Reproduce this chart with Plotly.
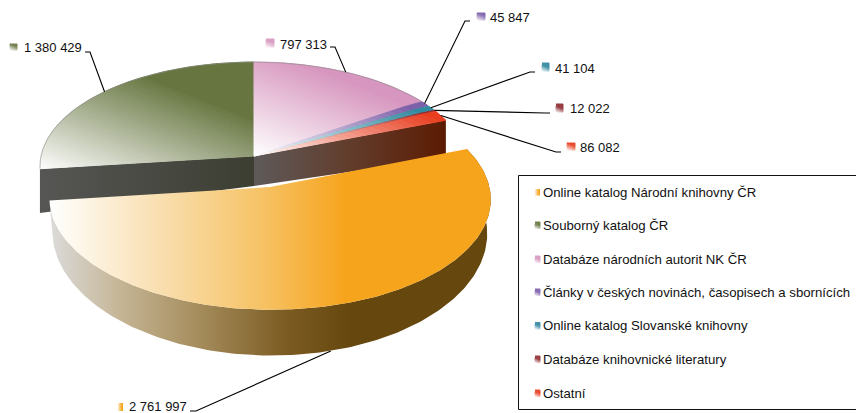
import numpy as np
import plotly.graph_objects as go

# ---------- data ----------
categories = ["Online katalog Národní knihovny ČR", "Souborný katalog ČR",
              "Databáze národních autorit NK ČR",
              "Články v českých novinách, časopisech a sbornících",
              "Online katalog Slovanské knihovny", "Databáze knihovnické literatury", "Ostatní"]
values = [2761997, 1380429, 797313, 45847, 41104, 12022, 86082]
colors = ["#F7A41D", "#66753F", "#D695BE", "#7A5CA8", "#2E879E", "#8E2A30", "#E8391A"]

# ---------- styling / layout constants ----------
W, H = 856, 413
CX, CY = 254.0, 156.0        # pie apex in pixels
A, K, P = 213.0, 103.5, 0.1015  # radius, vertical squash, perspective
FIRST_ANGLE = 69.0
EXPLODE = 0.30
D0 = 30.0
FONT = "Liberation Sans, Arial, sans-serif"
FADE = (0.37, -0.93)

LABELS = [
    dict(tx=127, ty=406, ex=190, bx=196, by=411, mx=(118, 123), my=(403, 411)),
    dict(tx=22, ty=47, ex=85, bx=90, by=52, mx=(10, 17), my=(44, 50)),
    dict(tx=278, ty=44, ex=330, bx=335, by=47, mx=(266, 274), my=(39, 47)),
    dict(tx=488, ty=17, ex=470, bx=465, by=21, mx=(477, 485), my=(13, 20)),
    dict(tx=553, ty=68, ex=535, bx=530, by=72, mx=(542, 549), my=(63, 71)),
    dict(tx=568, ty=108, ex=550, bx=545, by=113, mx=(556, 563), my=(104, 112)),
    dict(tx=578, ty=147, ex=561, bx=556, by=152, mx=(567, 575), my=(143, 150)),
]
LEGEND_Y = [192, 225, 259, 292, 325.5, 359, 393]


def hex2rgb(h):
    return np.array([int(h[i:i + 2], 16) for i in (1, 3, 5)], float)


def mix(c, t):
    rgb = 255 + (hex2rgb(c) - 255) * np.clip(t, 0, 1)
    return "rgb(%d,%d,%d)" % tuple(rgb.round())


def project(u, v, ox=0.0, oy=0.0):
    u, v = np.asarray(u, float) + ox, np.asarray(v, float) + oy
    s = 1.0 / (1.0 - P * v)
    return CX + A * u * s, CY + K * v * s, s


def rim(a0, a1, ox=0.0, oy=0.0, n=120):
    th = np.radians(np.linspace(a0, a1, n))
    return project(np.sin(th), -np.cos(th), ox, oy)


def depth(x, s, extra=13.0):
    return D0 * s ** 3 + extra * ((x - CX) / A) ** 2


fig = go.Figure()


def poly(x, y, fill=None, grad=None):
    kw = dict(x=list(x), y=list(y), mode="lines", fill="toself", hoverinfo="skip", showlegend=False)
    if grad is not None:
        stops, x0, x1 = grad
        kw["fillgradient"] = dict(type="horizontal", colorscale=stops, start=x0, stop=x1)
        kw["line"] = dict(width=0, color="rgba(0,0,0,0)")
    else:
        kw["fillcolor"] = fill
        kw["line"] = dict(width=1, color=fill)
    fig.add_trace(go.Scatter(**kw))


def clip(pts, nx, ny, d, keep_ge=True):
    out = []
    sign = 1 if keep_ge else -1
    for i in range(len(pts)):
        a, b = pts[i], pts[(i + 1) % len(pts)]
        fa = sign * (a[0] * nx + a[1] * ny - d)
        fb = sign * (b[0] * nx + b[1] * ny - d)
        if fa >= 0:
            out.append(a)
        if fa * fb < 0:
            r = fa / (fa - fb)
            out.append((a[0] + (b[0] - a[0]) * r, a[1] + (b[1] - a[1]) * r))
    return out


def bands(x, y, color, origin, full, n=36, direction=FADE):
    pts = list(zip(x, y))
    nx, ny = direction
    d0 = origin[0] * nx + origin[1] * ny
    for i in range(n):
        lo = d0 + full * i / n
        hi = d0 + full * (i + 1) / n if i < n - 1 else 1e6
        part = clip(pts, nx, ny, lo, True) if i > 0 else list(pts)
        part = clip(part, nx, ny, hi, False)
        if len(part) > 2:
            poly([p[0] for p in part], [p[1] for p in part], fill=mix(color, (i + 0.5) / n))


total = sum(values)
sweeps = [v / total * 360 for v in values]
starts = [FIRST_ANGLE + sum(sweeps[:i]) for i in range(len(values))]
ends = [a + s for a, s in zip(starts, sweeps)]

bis = np.radians((starts[0] + ends[0]) / 2)
OX, OY = EXPLODE * np.sin(bis), -EXPLODE * np.cos(bis)

for ang, stops, rng in [
    (ends[0], [[0, "#565654"], [1, "#3C3E32"]], (40, 254)),
    (starts[0], [[0, "#5E5A5A"], [0.5, "#623D2C"], [1, "#5C1C04"]], (254, 443)),
]:
    th = np.radians(ang)
    xr, yr, sr = project(np.sin(th), -np.cos(th))
    xa, ya, sa = CX, CY, 1.0
    dr, da = depth(xr, sr), depth(xa, sa)
    poly([xa, xr, xr, xa], [ya, yr, yr + dr, ya + da], grad=(stops, rng[0], rng[1]))

for i in range(1, len(values)):
    xr, yr, _ = rim(starts[i], ends[i])
    px = np.concatenate([[CX], xr])
    py = np.concatenate([[CY], yr])
    if i == 1:
        bands(px, py, colors[i], (40, 170), 126, n=60)
    else:
        bands(px, py, colors[i], (CX, CY), 105, n=40 if i == 2 else 24)
    if i in (1, 2):
        fig.add_trace(go.Scatter(x=list(xr), y=list(yr), mode="lines", hoverinfo="skip", showlegend=False,
                                 line=dict(color="rgba(140,140,140,0.6)", width=1)))

xo, yo, so = rim(starts[0], ends[0], OX, OY, 200)
do = depth(xo, so, extra=0.0)
xb = CX + (xo - CX) * 0.985
yb = yo + do
ap_x, ap_y, _ = project(0, 0, OX, OY)
wall_stops = [[0, "#DCDCDC"], [0.24, "#C5B595"], [0.5, "#A58C5C"], [0.8, "#7A5A20"], [1, "#66480F"]]
poly(np.concatenate([xo, xb[::-1]]), np.concatenate([yo, yb[::-1]]), grad=(wall_stops, 48, 350))
poly(np.concatenate([[ap_x], xo]), np.concatenate([[ap_y], yo]),
     grad=([[0, "#FFFFFF"], [0.35, "#F9E0B4"], [0.7, "#F6C469"], [1, colors[0]]], 50, 345))

for i, lab in enumerate(LABELS):
    th = np.radians((starts[i] + ends[i]) / 2)
    if i == 0:
        ax, ay, s = project(np.sin(th), -np.cos(th), OX, OY)
        ay = ay + depth(ax, s, extra=0.0)
    else:
        ax, ay, s = project(np.sin(th), -np.cos(th))
    fig.add_trace(go.Scatter(x=[lab["ex"], lab["bx"], float(ax)], y=[lab["by"], lab["by"], float(ay)],
                             mode="lines", hoverinfo="skip", showlegend=False,
                             line=dict(color="black", width=1.1)))
    x0, x1 = lab["mx"]
    y0, y1 = lab["my"]
    mx = [x0, x1, x1, x0]
    my = [y0, y0, y1, y1]
    if i == 0:
        poly(mx, my, grad=([[0, "#FFFFFF"], [1, colors[0]]], x0 - 1, x1 - 1))
    else:
        bands(mx, my, colors[i], (x0, y1), (x1 - x0) * 0.95, n=6)
    fig.add_annotation(x=lab["tx"], y=lab["ty"], text=f"{values[i]:,}".replace(",", " "), showarrow=False,
                       xanchor="left", yanchor="middle", font=dict(family=FONT, size=13, color="#111"))

fig.add_shape(type="rect", x0=518.5, x1=870, y0=175.5, y1=409.5, line=dict(color="#111", width=1), fillcolor="rgba(0,0,0,0)")
for i, name in enumerate(categories):
    y = LEGEND_Y[i]
    mx = [535, 540, 540, 535]
    my = [y - 3, y - 3, y + 3.5, y + 3.5]
    if i == 0:
        poly(mx, my, grad=([[0, "#FFFFFF"], [1, colors[0]]], 534, 539))
    else:
        bands(mx, my, colors[i], (535, y + 3.5), 5.5, n=5)
    fig.add_annotation(x=541, y=y, text=name, showarrow=False, xanchor="left", yanchor="middle",
                       font=dict(family=FONT, size=13.2, color="#111"))

fig.update_layout(
    width=W, height=H, margin=dict(l=0, r=0, t=0, b=0), paper_bgcolor="white", plot_bgcolor="white",
    xaxis=dict(range=[0, W], visible=False, fixedrange=True),
    yaxis=dict(range=[H, 0], visible=False, fixedrange=True),
    showlegend=False,
)
fig.write_html("out.html", config={"displayModeBar": False},
               post_script="document.body.style.margin='0';document.body.style.overflow='hidden';")
